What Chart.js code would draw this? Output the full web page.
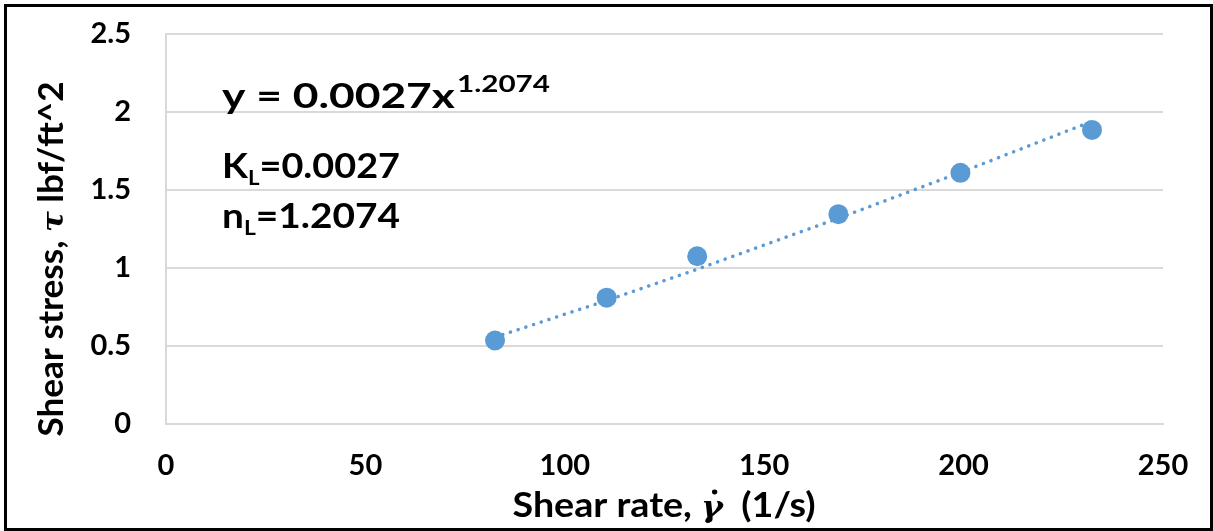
<!DOCTYPE html>
<html>
<head>
<meta charset="utf-8">
<script src="https://cdn.jsdelivr.net/npm/chart.js@4.4.1/dist/chart.umd.min.js"></script>
<style>
  html, body { margin: 0; padding: 0; background: #ffffff; }
  #wrap { width: 1213px; height: 531px; position: relative; }
</style>
</head>
<body>
<div id="wrap"><canvas id="c" width="1213" height="531"></canvas></div>
<script>
// Measured shear rate (1/s) and shear stress (lbf/ft^2)
const shearRate   = [82.5, 110.5, 133.2, 168.6, 199.2, 232.2];
const shearStress = [0.535, 0.81, 1.075, 1.345, 1.61, 1.885];

// Power-law fit  tau = K * gamma^n
const fitK = 0.0027;
const fitN = 1.2074;

// Axis ticks
const xTicks = [0, 50, 100, 150, 200, 250];
const yTicks = [0, 0.5, 1, 1.5, 2, 2.5];

const BLUE = '#5b9bd5';
const GRID = '#d9d9d9';
const SANS = "Lato, 'Open Sans', sans-serif";
const SERIF = "'DejaVu Serif', 'Liberation Serif', serif";

const measured = shearRate.map((x, i) => ({ x: x, y: shearStress[i] }));
const fitted = shearRate.map(x => ({ x: x, y: fitK * Math.pow(x, fitN) }));

// Draw a row of differently styled text pieces, optionally squeezed to a width.
function drawRuns(ctx, runs, x, y, width, align) {
  let total = 0;
  runs.forEach(r => { ctx.font = r.f; r.w = ctx.measureText(r.t).width; total += r.w; });
  const sx = width ? width / total : 1;
  const drawn = total * sx;
  ctx.save();
  ctx.translate(align === 'center' ? x - drawn / 2 : x, y);
  ctx.scale(sx, 1);
  ctx.textBaseline = 'alphabetic';
  ctx.textAlign = 'left';
  let cx = 0;
  runs.forEach(r => {
    ctx.font = r.f;
    ctx.fillText(r.t, cx, r.dy || 0);
    if (r.dot) {
      ctx.beginPath();
      ctx.arc(cx + r.w * 0.62, (r.dy || 0) - r.dot, 2.4, 0, Math.PI * 2);
      ctx.fill();
    }
    cx += r.w;
  });
  ctx.restore();
}

const frameAndText = {
  id: 'frameAndText',
  beforeDraw(chart) {
    const ctx = chart.ctx;
    ctx.save();
    ctx.fillStyle = '#ffffff';
    ctx.fillRect(0, 0, chart.width, chart.height);
    ctx.restore();
  },
  afterDraw(chart) {
    const ctx = chart.ctx;
    ctx.save();
    // outer frame
    ctx.strokeStyle = '#000000';
    ctx.lineWidth = 3;
    ctx.strokeRect(5.5, 5.5, chart.width - 7, chart.height - 7);

    ctx.fillStyle = '#000000';
    // fit equation
    drawRuns(ctx, [
      { t: 'y = 0.0027x', f: `bold 34px ${SANS}` }
    ], 222, 108, 233);
    drawRuns(ctx, [
      { t: '1.2074', f: `bold 22px ${SANS}` }
    ], 457, 92, 93);

    // consistency and flow indices
    drawRuns(ctx, [
      { t: 'K', f: `bold 34px ${SANS}` },
      { t: 'L', f: `bold 20px ${SANS}`, dy: 7 },
      { t: '=0.0027', f: `bold 34px ${SANS}` }
    ], 222, 178, 178);
    drawRuns(ctx, [
      { t: 'n', f: `bold 34px ${SANS}` },
      { t: 'L', f: `bold 20px ${SANS}`, dy: 7 },
      { t: '=1.2074', f: `bold 34px ${SANS}` }
    ], 222, 228, 178);

    // x axis title
    drawRuns(ctx, [
      { t: 'Shear rate, ', f: `bold 34px ${SANS}` },
      { t: 'γ', f: `bold italic 30px ${SERIF}`, dot: 25 },
      { t: '  (1/s)', f: `bold 34px ${SANS}` }
    ], 664, 517, 303, 'center');

    // y axis title
    ctx.save();
    ctx.translate(63, 259);
    ctx.rotate(-Math.PI / 2);
    drawRuns(ctx, [
      { t: 'Shear stress, ', f: `bold 34px ${SANS}` },
      { t: 'τ', f: `bold italic 30px ${SERIF}` },
      { t: ' lbf/ft^2', f: `bold 34px ${SANS}` }
    ], 0, 0, 355, 'center');
    ctx.restore();
    ctx.restore();
  }
};

new Chart(document.getElementById('c'), {
  type: 'scatter',
  data: {
    datasets: [
      {
        label: 'Power fit',
        data: fitted,
        showLine: true,
        borderColor: BLUE,
        borderWidth: 3.5,
        borderDash: [0.1, 8],
        borderCapStyle: 'round',
        pointRadius: 0,
        tension: 0,
        order: 2
      },
      {
        label: 'Shear stress',
        data: measured,
        backgroundColor: BLUE,
        borderColor: BLUE,
        borderWidth: 0,
        pointRadius: 10,
        order: 1
      }
    ]
  },
  options: {
    responsive: false,
    animation: false,
    devicePixelRatio: 1,
    layout: { padding: { left: 10, top: 34, right: 50, bottom: 0 } },
    plugins: { legend: { display: false }, tooltip: { enabled: false } },
    scales: {
      x: {
        type: 'linear',
        min: 0, max: 250,
        afterBuildTicks(scale) { scale.ticks = xTicks.map(v => ({ value: v })); },
        afterFit(scale) { scale.height = 107; },
        grid: { display: false, drawTicks: false },
        border: { display: true, color: GRID, width: 2 },
        ticks: {
          padding: 24,
          color: '#000000',
          font: { family: SANS, weight: 'bold', size: 29 },
          maxRotation: 0,
          callback: v => String(v)
        }
      },
      y: {
        type: 'linear',
        min: 0, max: 2.5,
        afterBuildTicks(scale) { scale.ticks = yTicks.map(v => ({ value: v })); },
        afterFit(scale) {
          scale.width = 156;
          // only half a label is needed above the top tick
          scale.paddingTop = 18;
          scale.paddingBottom = 18;
        },
        grid: { color: GRID, lineWidth: 2, drawTicks: false },
        border: { display: true, color: GRID, width: 2 },
        ticks: {
          padding: 35,
          color: '#000000',
          font: { family: SANS, weight: 'bold', size: 29 },
          callback: v => String(v)
        }
      }
    }
  },
  plugins: [frameAndText]
});
</script>
</body>
</html>
